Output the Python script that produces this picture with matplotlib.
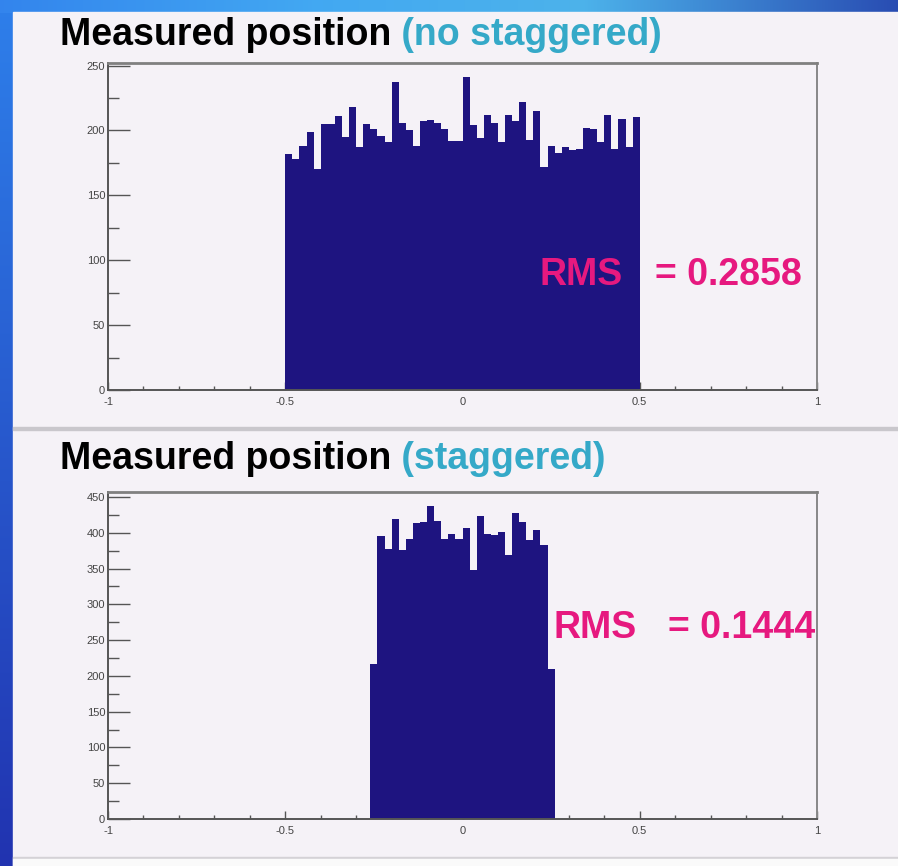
import numpy as np
import matplotlib
matplotlib.use("Agg")
import matplotlib.pyplot as plt
from matplotlib.patches import Rectangle
from matplotlib.ticker import MultipleLocator, FixedLocator

W, H = 898, 866

# measured position, no staggering: 50 bins of 0.02 between -0.5 and 0.5
counts_flat = [182, 178, 188, 199, 170, 205, 205, 211, 195, 218,
               187, 205, 201, 196, 191, 237, 206, 200, 188, 207,
               208, 206, 201, 192, 192, 241, 204, 194, 212, 206,
               191, 212, 207, 222, 193, 215, 172, 188, 183, 187,
               185, 186, 202, 201, 191, 212, 186, 209, 187, 210]
edges_flat = np.round(np.arange(-0.5, 0.5001, 0.02), 2)

# measured position, staggered: bins of 0.02 between -0.26 and 0.26
counts_stag = [217, 395, 378, 419, 376, 391, 413, 415, 437, 417,
               392, 399, 391, 406, 348, 423, 399, 397, 401, 369,
               427, 415, 390, 404, 383, 210]
edges_stag = np.round(np.arange(-0.26, 0.2601, 0.02), 2)

subtitles = ["(no staggered)", "(staggered)"]
rms_values = ["0.2858", "0.1444"]
y_max = [252, 457]
x_ticks = [-1, -0.5, 0, 0.5, 1]
x_labels = ["-1", "-0.5", "0", "0.5", "1"]

NAVY = "#1e1480"
PINK = "#e6197f"
CYAN = "#35a9c8"
PANEL = "#f5f2f7"
FRAME = "#555555"
FONT = "Liberation Sans"


def fx(x):
    return x / W


def fy(y):
    return 1 - y / H


fig = plt.figure(figsize=(W / 100, H / 100), dpi=100)

# slide background: blue gradient strips on top and left, light panel over it
bg = fig.add_axes([0, 0, 1, 1])
bg.set_xlim(0, W)
bg.set_ylim(H, 0)
bg.axis("off")

left_top = np.array([0.18, 0.50, 0.92])
left_bot = np.array([0.13, 0.20, 0.69])
t = np.linspace(0, 1, H)[:, None]
img = np.repeat((left_top * (1 - t) + left_bot * t)[:, None, :], W, axis=1)
xs = np.linspace(0, 1, W)
top_stops = np.array([[0.20, 0.52, 0.93], [0.26, 0.66, 0.95],
                      [0.30, 0.70, 0.92], [0.16, 0.30, 0.70]])
pos = np.array([0, 0.35, 0.65, 1])
top_row = np.stack([np.interp(xs, pos, top_stops[:, c]) for c in range(3)], axis=1)
img[:13] = top_row[None, :, :]
bg.imshow(img, extent=(0, W, H, 0), aspect="auto", zorder=0)

bg.add_patch(Rectangle((13, 12), W - 13, H - 12, color=PANEL, zorder=1))
bg.add_patch(Rectangle((13, 427), W - 13, 3, color="#c9c7cc", zorder=2))
bg.add_patch(Rectangle((13, 857), W - 13, 2, color="#d4d2d6", zorder=2))
bg.add_patch(Rectangle((13, 859), W - 13, H - 859, color="#fafafa", zorder=2))

panels = [
    (63, 390, counts_flat, edges_flat, 45, 275, 540, 655),
    (492, 819, counts_stag, edges_stag, 469, 628, 553, 668),
]

for i, (top, bot, counts, edges, title_y, rms_y, rms_x, val_x) in enumerate(panels):
    ax = fig.add_axes([fx(108), fy(bot), fx(817) - fx(108), (bot - top) / H])
    ax.set_facecolor(PANEL)
    ax.stairs(counts, edges, fill=True, color=NAVY, lw=0.8, zorder=2)
    ax.set_xlim(-1, 1)
    ax.set_ylim(0, y_max[i])

    for side in ["left", "bottom", "top", "right"]:
        ax.spines[side].set_color(FRAME)
        ax.spines[side].set_linewidth(1.4)
    ax.spines["top"].set_color("#808080")
    ax.spines["top"].set_linewidth(2)
    ax.spines["right"].set_color("#888888")

    ax.xaxis.set_major_locator(FixedLocator(x_ticks))
    ax.set_xticklabels(x_labels)
    ax.xaxis.set_minor_locator(MultipleLocator(0.1))
    ax.yaxis.set_major_locator(MultipleLocator(50))
    ax.yaxis.set_minor_locator(MultipleLocator(25))

    ax.tick_params(axis="x", which="major", direction="in", length=6, width=1,
                   color=FRAME, labelsize=8, labelcolor="#444444", pad=5)
    ax.tick_params(axis="x", which="minor", direction="in", length=3, width=1, color=FRAME)
    ax.tick_params(axis="y", which="major", direction="in", length=16, width=1,
                   color=FRAME, labelsize=8, labelcolor="#444444", pad=2)
    ax.tick_params(axis="y", which="minor", direction="in", length=8, width=1, color=FRAME)
    for lab in ax.get_xticklabels() + ax.get_yticklabels():
        lab.set_family(FONT)

    # title: black part then coloured part right after it
    t1 = fig.text(fx(60), fy(title_y), "Measured position", fontsize=27,
                  fontweight="bold", family=FONT, color="black", va="baseline")
    bg.annotate(" " + subtitles[i], xy=(1, 0), xycoords=t1, fontsize=27,
                fontweight="bold", family=FONT, color=CYAN, va="bottom", ha="left")

    fig.text(fx(rms_x), fy(rms_y), "RMS", fontsize=27, fontweight="bold",
             family=FONT, color=PINK, va="center", ha="left", zorder=5)
    fig.text(fx(val_x), fy(rms_y), "= " + rms_values[i], fontsize=27,
             fontweight="bold", family=FONT, color=PINK, va="center", ha="left", zorder=5)

fig.savefig("out.png", dpi=100)
